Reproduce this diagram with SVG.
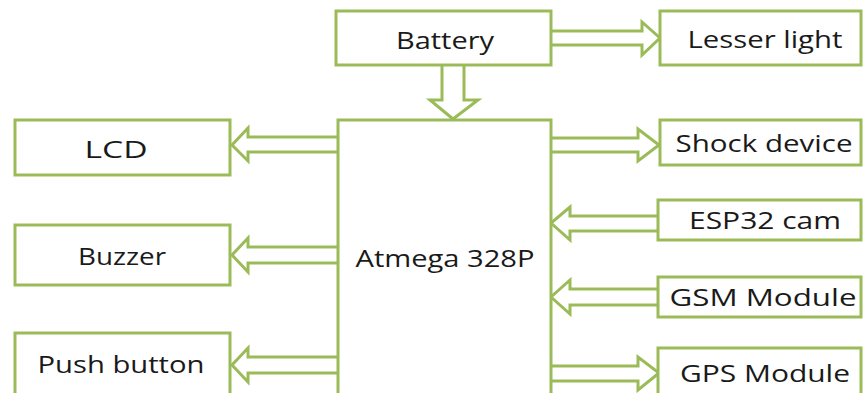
<svg xmlns="http://www.w3.org/2000/svg" width="867" height="393" viewBox="0 0 867 393">
<style>
.box{fill:#fff;stroke:#9bbb59;stroke-width:3}
.arr{fill:#fff;stroke:#9bbb59;stroke-width:3;stroke-linejoin:miter}
text{font-family:"Open Sans","Liberation Sans",sans-serif;font-size:24px;fill:#1a1a1a;text-anchor:middle;dominant-baseline:central}
</style>
<rect width="867" height="393" fill="#fff"/>
<g id="connectors">
<path class="arr" d="M551,31 L642,31 L642,22 L660,38 L642,55 L642,45 L551,45"/>
<path class="arr" d="M442,65 L442,100 L430,100 L453,119 L478,100 L464,100 L464,65"/>
<path class="arr" d="M338,137 L248,137 L248,128 L232,145 L248,161 L248,152 L338,152"/>
<path class="arr" d="M338,247 L248,247 L248,238 L232,255 L248,272 L248,263 L338,263"/>
<path class="arr" d="M338,357 L248,357 L248,348 L232,365 L248,382 L248,373 L338,373"/>
<path class="arr" d="M551,138 L638,138 L638,129 L659,145 L638,161 L638,152 L551,152"/>
<path class="arr" d="M658,216 L570,216 L570,207 L551,223 L570,240 L570,231 L658,231"/>
<path class="arr" d="M658,289 L570,289 L570,280 L551,297 L570,314 L570,305 L658,305"/>
<path class="arr" d="M551,366 L638,366 L638,357 L659,373 L638,390 L638,381 L551,381"/>
</g>
<g id="battery"><rect class="box" x="336" y="11" width="215" height="54"/><text x="445" y="39" textLength="98" lengthAdjust="spacingAndGlyphs">Battery</text></g>
<g id="lesser-light"><rect class="box" x="660" y="11" width="201" height="54"/><text x="765" y="38" textLength="155" lengthAdjust="spacingAndGlyphs">Lesser light</text></g>
<g id="atmega"><rect class="box" x="338" y="120" width="213" height="290"/><text x="445" y="257" textLength="179" lengthAdjust="spacingAndGlyphs">Atmega 328P</text></g>
<g id="lcd"><rect class="box" x="15" y="120" width="215" height="55"/><text x="116" y="148" textLength="63" lengthAdjust="spacingAndGlyphs">LCD</text></g>
<g id="buzzer"><rect class="box" x="15" y="225" width="215" height="60"/><text x="122" y="255" textLength="88" lengthAdjust="spacingAndGlyphs">Buzzer</text></g>
<g id="push-button"><rect class="box" x="15" y="333" width="215" height="70"/><text x="121" y="363" textLength="167" lengthAdjust="spacingAndGlyphs">Push button</text></g>
<g id="shock-device"><rect class="box" x="660" y="120" width="201" height="45"/><text x="764" y="142" textLength="177" lengthAdjust="spacingAndGlyphs">Shock device</text></g>
<g id="esp32-cam"><rect class="box" x="658" y="200" width="203" height="40"/><text x="765" y="219" textLength="152" lengthAdjust="spacingAndGlyphs">ESP32 cam</text></g>
<g id="gsm-module"><rect class="box" x="658" y="277" width="203" height="40"/><text x="763" y="296" textLength="187" lengthAdjust="spacingAndGlyphs">GSM Module</text></g>
<g id="gps-module"><rect class="box" x="658" y="348" width="203" height="60"/><text x="765" y="372" textLength="170" lengthAdjust="spacingAndGlyphs">GPS Module</text></g>
</svg>
